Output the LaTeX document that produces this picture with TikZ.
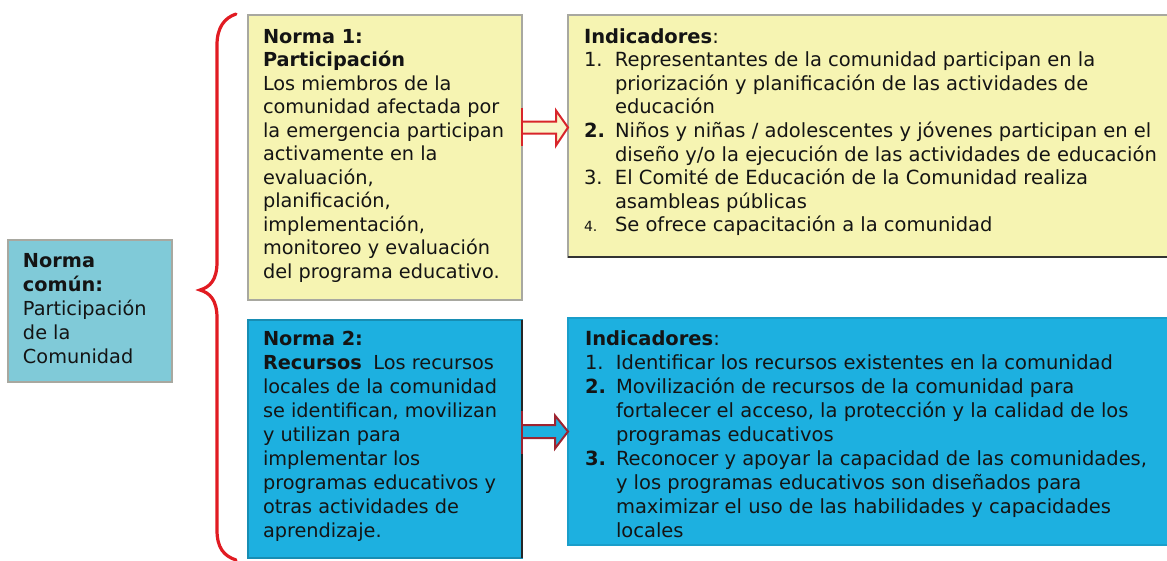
\documentclass[tikz,border=0pt]{standalone}
\usepackage{fontspec}
\setmainfont{DejaVu Sans}
\usetikzlibrary{calc}
\definecolor{yel}{HTML}{F6F4B2}
\definecolor{blu}{HTML}{1DB0E0}
\definecolor{tealbox}{HTML}{80CAD8}
\definecolor{bracered}{HTML}{E11B22}
\definecolor{arrred}{HTML}{D8252B}
\definecolor{arrdark}{HTML}{9E2430}
\definecolor{edge}{HTML}{A8A8A0}
\definecolor{ink}{HTML}{141414}
\tikzset{
  box/.style={rectangle, draw=edge, line width=1.2pt, anchor=north west, inner sep=0pt, outer sep=0pt},
  txt/.style={anchor=base west, inner sep=0pt, outer sep=0pt, text=ink, align=left},
  brace/.style={draw=bracered, line width=3.2pt, line cap=round},
  openarrow/.style={line width=2pt, line join=miter},
}
\begin{document}
\begin{tikzpicture}[x=1pt,y=-1pt]
\useasboundingbox (0,0) rectangle (1167,560);
\fill[white] (0,0) rectangle (1167,560);

% boxes
\node[box, fill=tealbox, minimum width=164pt, minimum height=142pt] (L) at (8,240) {};
\node[box, fill=yel, minimum width=274pt, minimum height=285pt] (n1) at (248,15) {};
\node[box, fill=yel, minimum width=602pt, minimum height=242pt] (i1) at (568,15) {};
\node[box, fill=blu, draw=blu!80!black, minimum width=274pt, minimum height=238pt] (n2) at (248,320) {};
\node[box, fill=blu, draw=blu!90!black, minimum width=602pt, minimum height=227pt] (i2) at (568,318) {};
\draw[line width=2pt, black!80] (i1.south west) -- (i1.south east);
\draw[line width=1.2pt, black!85] (n2.north east) -- (n2.south east);

% texts
\node[txt, font=\fontsize{19.3}{24}\selectfont] (Lt) at ([xshift=15pt,yshift=-27pt]L.north west) {%
\begin{tabular}[t]{@{}l@{}}
\textbf{Norma}\\
\textbf{común:}\\
Participación\\
de la\\
Comunidad
\end{tabular}};

\node[txt, font=\fontsize{19.3}{23.5}\selectfont] (n1t) at ([xshift=15pt,yshift=-28pt]n1.north west) {%
\begin{tabular}[t]{@{}l@{}}
\textbf{Norma 1:}\\
\textbf{Participación}\\
Los miembros de la\\
comunidad afectada por\\
la emergencia participan\\
activamente en la\\
evaluación,\\
planificación,\\
implementación,\\
monitoreo y evaluación\\
del programa educativo.
\end{tabular}};

\node[txt, font=\fontsize{19.3}{24}\selectfont] (n2t) at ([xshift=15pt,yshift=-25pt]n2.north west) {%
\begin{tabular}[t]{@{}l@{}}
\textbf{Norma 2:}\\
\textbf{Recursos}\hspace{0.6em}Los recursos\\
locales de la comunidad\\
se identifican, movilizan\\
y utilizan para\\
implementar los\\
programas educativos y\\
otras actividades de\\
aprendizaje.
\end{tabular}};

\node[txt, font=\fontsize{19.5}{23.6}\selectfont] (i1t) at ([xshift=16pt,yshift=-28pt]i1.north west) {%
\begin{tabular}[t]{@{}p{31pt}@{}l@{}}
\multicolumn{2}{@{}l@{}}{\textbf{Indicadores}:}\\
1. & Representantes de la comunidad participan en la\\
 & priorización y planificación de las actividades de\\
 & educación\\
\textbf{2.} & Niños y niñas / adolescentes y jóvenes participan en el\\
 & diseño y/o la ejecución de las actividades de educación\\
3. & El Comité de Educación de la Comunidad realiza\\
 & asambleas públicas\\
{\fontsize{14}{23.6}\selectfont 4.} & Se ofrece capacitación a la comunidad
\end{tabular}};

\node[txt, font=\fontsize{19.5}{24}\selectfont] (i2t) at ([xshift=17pt,yshift=-27pt]i2.north west) {%
\begin{tabular}[t]{@{}p{31pt}@{}l@{}}
\multicolumn{2}{@{}l@{}}{\textbf{Indicadores}:}\\
1. & Identificar los recursos existentes en la comunidad\\
\textbf{2.} & Movilización de recursos de la comunidad para\\
 & fortalecer el acceso, la protección y la calidad de los\\
 & programas educativos\\
\textbf{3.} & Reconocer y apoyar la capacidad de las comunidades,\\
 & y los programas educativos son diseñados para\\
 & maximizar el uso de las habilidades y capacidades\\
 & locales
\end{tabular}};

% brace
\draw[brace] (236,14) .. controls (224,18) and (217,28) .. (217,45) -- (217,262)
  .. controls (217,280) and (210,287) .. (200,290)
  .. controls (210,293) and (217,300) .. (217,318) -- (217,530)
  .. controls (217,548) and (224,556) .. (236,560);

% arrows
\coordinate (A1) at ([yshift=30pt]n1.east);
\coordinate (B1) at (i1.west |- A1);
\draw[openarrow, draw=arrred, fill=yel!70!white]
  ($(A1)+(0,-6)$) -- ($(B1)+(-12,-6)$) -- ($(B1)+(-12,-17)$) -- (B1)
  -- ($(B1)+(-12,18)$) -- ($(B1)+(-12,6)$) -- ($(A1)+(0,6)$);
\draw[openarrow, draw=arrred] ($(A1)+(0,-20)$) -- ($(A1)+(0,18)$);

\coordinate (A2) at ([yshift=7.5pt]n2.east);
\coordinate (B2) at (i2.west |- A2);
\draw[openarrow, draw=arrdark, fill=blu]
  ($(A2)+(0,-6.5)$) -- ($(B2)+(-13,-6.5)$) -- ($(B2)+(-13,-16)$) -- (B2)
  -- ($(B2)+(-13,17)$) -- ($(B2)+(-13,6.5)$) -- ($(A2)+(0,6.5)$);
\draw[openarrow, draw=arrdark] ($(A2)+(0,-21)$) -- ($(A2)+(0,22)$);
\end{tikzpicture}
\end{document}
